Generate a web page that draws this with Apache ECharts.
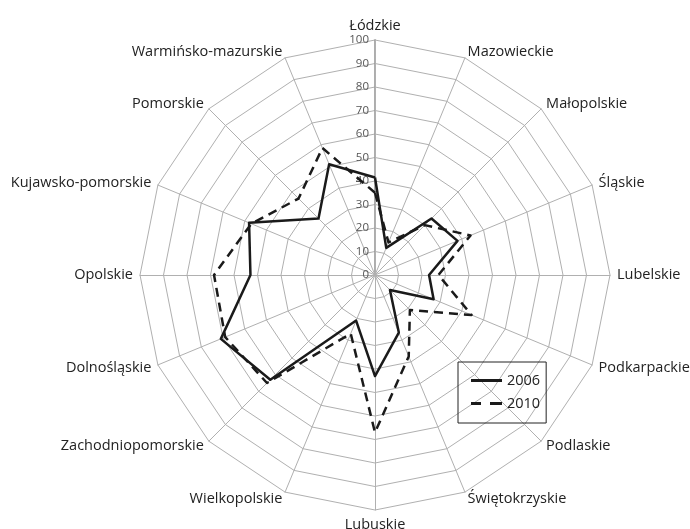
<!DOCTYPE html>
<html>
<head>
<meta charset="utf-8">
<script src="https://cdn.jsdelivr.net/npm/echarts@6/dist/echarts.min.js"></script>
<style>
html,body{margin:0;padding:0;background:#fff;}
#chart{width:690px;height:529px;}
</style>
</head>
<body>
<div id="chart"></div>
<script>
// Categories clockwise from top
const categories = ['Łódzkie','Mazowieckie','Małopolskie','Śląskie','Lubelskie','Podkarpackie','Podlaskie','Świętokrzyskie','Lubuskie','Wielkopolskie','Zachodniopomorskie','Dolnośląskie','Opolskie','Kujawsko-pomorskie','Pomorskie','Warmińsko-mazurskie'];
const values2006 = [41.5, 12.5, 34, 38, 23, 27, 9, 26.5, 43, 21, 63, 71, 53, 58, 34, 51];
const values2010 = [35, 15, 30, 44, 27, 44.5, 21, 37.5, 67, 27, 65, 69, 68.5, 57, 46, 58.5];
const seriesNames = ['2006', '2010'];
const axisMax = 100;
const axisInterval = 10;

// ECharts radar places indicators counter-clockwise; reorder to get clockwise layout
function ccw(arr) { return [arr[0]].concat(arr.slice(1).reverse()); }

const chart = echarts.init(document.getElementById('chart'));
const font = 'Open Sans';
chart.setOption({
  animation: false,
  backgroundColor: '#fff',
  textStyle: { fontFamily: font },
  legend: {
    orient: 'vertical',
    left: 458,
    top: 362,
    padding: [11, 6, 12, 13],
    itemGap: 8,
    itemWidth: 31,
    itemHeight: 3,
    borderColor: '#222',
    borderWidth: 1,
    textStyle: { fontFamily: font, fontSize: 14.5, color: '#222' },
    data: [
      { name: seriesNames[0], icon: 'path://M0,0H31V3H0Z' },
      { name: seriesNames[1], icon: 'path://M0,0H10V3H0Z M19,0H31V3H19Z' }
    ]
  },
  radar: {
    center: [375, 275],
    radius: 235,
    startAngle: 90,
    shape: 'polygon',
    splitNumber: axisMax / axisInterval,
    axisNameGap: 7,
    axisName: { color: '#222', fontSize: 14.5, fontFamily: font },
    splitArea: { show: false },
    splitLine: { lineStyle: { color: '#b0b0b0', width: 1 } },
    axisLine: { lineStyle: { color: '#b0b0b0', width: 1 } },
    indicator: ccw(categories).map(n => ({ name: n, min: 0, max: axisMax }))
  },
  polar: { center: [375, 275], radius: 235 },
  angleAxis: { type: 'value', startAngle: 90, show: false, min: 0, max: 360 },
  radiusAxis: {
    type: 'value', min: 0, max: axisMax, interval: axisInterval,
    axisLine: { show: true, lineStyle: { color: '#999', width: 1.6 } },
    axisTick: { show: false },
    splitLine: { show: false },
    axisLabel: { color: '#555', fontSize: 11.5, fontFamily: font, margin: 6 }
  },
  series: [{
    type: 'radar',
    symbol: 'none',
    data: [
      { name: seriesNames[0], value: ccw(values2006),
        lineStyle: { color: '#1a1a1a', width: 2.5, type: 'solid' },
        itemStyle: { color: '#1a1a1a' } },
      { name: seriesNames[1], value: ccw(values2010),
        lineStyle: { color: '#1a1a1a', width: 2.5, type: [9, 6] },
        itemStyle: { color: '#1a1a1a' } }
    ]
  }]
});
</script>
</body>
</html>
